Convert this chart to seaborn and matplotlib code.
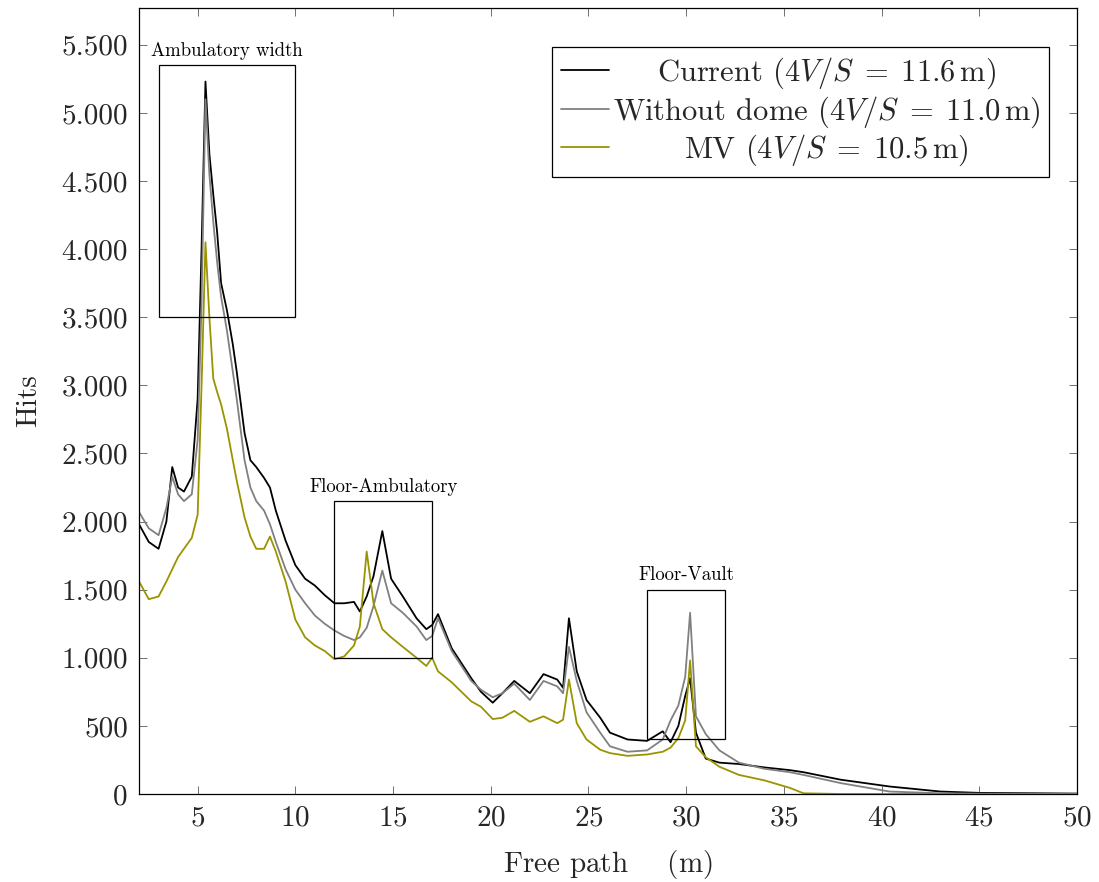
import numpy as np
import pandas as pd
import matplotlib
matplotlib.use("Agg")
import matplotlib.pyplot as plt
import seaborn as sns
from matplotlib.patches import Rectangle
from matplotlib.ticker import FuncFormatter, MultipleLocator

# ==========================================
# DATA
# ==========================================

free_path = [2.0, 2.5, 3.0, 3.4, 3.7, 4.0, 4.3, 4.7, 5.0, 5.2, 5.4, 5.6, 5.8, 6.0,
             6.2, 6.5, 6.8, 7.0, 7.4, 7.7, 8.0, 8.4, 8.7, 9.0, 9.5, 10.0, 10.5,
             11.0, 11.5, 12.0, 12.5, 13.0, 13.3, 13.65, 14.0, 14.45, 14.9, 15.5,
             16.2, 16.7, 17.0, 17.3, 18.0, 19.0, 19.5, 20.1, 20.6, 21.2, 22.0,
             22.7, 23.4, 23.7, 24.0, 24.4, 24.9, 25.6, 26.1, 27.0, 28.0, 28.8,
             29.2, 29.6, 29.95, 30.2, 30.5, 31.0, 31.7, 32.7, 34.0, 35.3, 36.0,
             37.9, 40.4, 43.0, 45.0, 50.0]

hits_current = [1980, 1850, 1800, 2000, 2400, 2250, 2220, 2330, 2900, 4000, 5230,
                4700, 4400, 4120, 3750, 3550, 3300, 3100, 2650, 2450, 2400, 2320,
                2250, 2080, 1860, 1680, 1580, 1530, 1460, 1400, 1400, 1410, 1340,
                1450, 1600, 1930, 1580, 1450, 1290, 1210, 1240, 1320, 1070, 850,
                750, 670, 740, 830, 740, 880, 840, 780, 1290, 900, 690, 560, 450,
                400, 390, 460, 380, 500, 720, 850, 450, 260, 230, 220, 195, 175,
                160, 105, 55, 18, 8, 3]

hits_no_dome = [2070, 1950, 1900, 2100, 2330, 2200, 2150, 2200, 2600, 3600, 5100,
                4550, 4200, 3900, 3650, 3400, 3100, 2900, 2450, 2250, 2150, 2080,
                1980, 1850, 1650, 1500, 1400, 1310, 1250, 1200, 1160, 1130, 1150,
                1220, 1380, 1640, 1400, 1330, 1230, 1130, 1160, 1290, 1050, 830,
                765, 710, 740, 810, 690, 830, 790, 740, 1080, 830, 600, 450, 350,
                310, 320, 400, 540, 650, 860, 1330, 570, 440, 320, 230, 185, 160,
                140, 80, 18, 5, 2, 0]

hits_mv = [1560, 1430, 1450, 1560, 1650, 1740, 1800, 1880, 2050, 3000, 4050,
           3500, 3050, 2950, 2860, 2680, 2450, 2300, 2030, 1890, 1800, 1800,
           1890, 1780, 1560, 1280, 1150, 1090, 1050, 990, 1010, 1090, 1230,
           1780, 1400, 1210, 1150, 1080, 1000, 940, 1000, 900, 820, 680, 640,
           550, 560, 610, 530, 570, 520, 545, 840, 520, 400, 325, 300, 280,
           290, 310, 340, 410, 540, 980, 350, 270, 200, 140, 100, 45, 5, 0,
           0, 0, 0, 0]

series_labels = [
    r"Current ($4V/S\;=\;11.6\,\mathrm{m}$)",
    r"Without dome ($4V/S\;=\;11.0\,\mathrm{m}$)",
    r"MV ($4V/S\;=\;10.5\,\mathrm{m}$)",
]
series_colors = ["black", "#808080", "#9a9400"]

# highlighted regions
region_labels = ["Ambulatory width", "Floor-Ambulatory", "Floor-Vault"]
region_x = [(3, 10), (12, 17), (28, 32)]
region_y = [(3500, 5350), (1000, 2150), (400, 1500)]

# ==========================================
# STYLE
# ==========================================

sns.set_style("ticks")
plt.rcParams["font.family"] = ["cmr10", "DejaVu Serif"]
plt.rcParams["mathtext.fontset"] = "cm"
plt.rcParams["axes.unicode_minus"] = False
plt.rcParams["axes.formatter.use_mathtext"] = True

fig = plt.figure(figsize=(10.99, 8.82), dpi=100)
ax = fig.add_axes([0.1265, 0.0998, 0.8535, 0.8911])

# ==========================================
# CURVES
# ==========================================

for vals, lab, col in zip([hits_current, hits_no_dome, hits_mv], series_labels, series_colors):
    sns.lineplot(x=free_path, y=vals, color=col, label=lab, linewidth=1.3, ax=ax)

# ==========================================
# REGIONS
# ==========================================

for lab, (x0, x1), (y0, y1) in zip(region_labels, region_x, region_y):
    ax.add_patch(Rectangle((x0, y0), x1 - x0, y1 - y0, fill=False,
                           edgecolor="black", linewidth=0.9, zorder=5))
    ax.text((x0 + x1) / 2, y1 + 40, lab, ha="center", va="bottom",
            fontsize=13.5, color="black")

# ==========================================
# AXES
# ==========================================

ax.set_xlim(2, 50)
ax.set_ylim(0, 5770)
ax.xaxis.set_major_locator(MultipleLocator(5))
ax.yaxis.set_major_locator(MultipleLocator(500))
ax.yaxis.set_major_formatter(FuncFormatter(lambda v, p: f"{v:,.0f}".replace(",", ".")))

ax.tick_params(direction="in", top=True, right=True, length=6, width=0.6,
               color="0.35", labelsize=21, pad=8)
for s in ax.spines.values():
    s.set_linewidth(0.9)
    s.set_color("black")

ax.set_xlabel(r"Free path $\quad\,$(m)", fontsize=21, labelpad=12)
ax.set_ylabel("Hits", fontsize=21, labelpad=14)

leg = ax.legend(loc="upper right", bbox_to_anchor=(0.970, 0.9504), borderaxespad=0,
                fontsize=22, frameon=True, fancybox=False, edgecolor="black",
                framealpha=1, handlelength=1.6, handletextpad=0.1,
                labelspacing=0.1, borderpad=0.28)
leg.get_frame().set_linewidth(0.9)

# centre the legend texts in their column, like pgfplots does
fig.canvas.draw()
renderer = fig.canvas.get_renderer()
texts = leg.get_texts()
boxes = [t.get_window_extent(renderer) for t in texts]
left = min(b.x0 for b in boxes)
right = max(b.x1 for b in boxes)
for t, b in zip(texts, boxes):
    cx, cy = (left + right) / 2, (b.y0 + b.y1) / 2
    fx, fy = fig.transFigure.inverted().transform((cx, cy))
    fig.text(fx, fy, t.get_text(), ha="center", va="center", fontsize=22, zorder=10)
    t.set_alpha(0)

fig.savefig("out.png", dpi=100)
